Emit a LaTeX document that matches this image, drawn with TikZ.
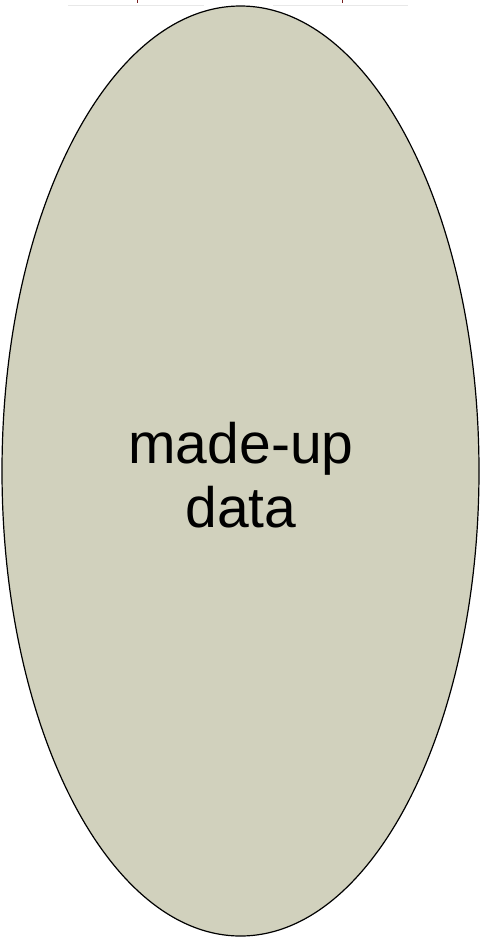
\documentclass[tikz,border=0pt]{standalone}
\usepackage{fontspec}
\setmainfont{Liberation Sans}
\usetikzlibrary{shapes.geometric}
\definecolor{blobfill}{RGB}{209,209,189}
\definecolor{ghostline}{RGB}{232,232,232}
\definecolor{ghosttick}{RGB}{120,30,30}
\begin{document}
\begin{tikzpicture}[x=1pt,y=-1pt,
  blob/.style={ellipse, draw=black, line width=1.2pt, fill=blobfill, minimum width=477pt, minimum height=930pt, inner sep=0pt},
  blobtext/.style={font=\fontsize{57}{64}\selectfont, align=center, text=black}]
\useasboundingbox (0,0) rectangle (481,938);
\draw[ghostline, line width=0.6pt] (68,5) -- (204,5);
\draw[ghostline, line width=0.6pt] (273,5) -- (408,5);
\draw[ghosttick, line width=0.8pt] (137,0) -- (137,3);
\draw[ghosttick, line width=0.8pt] (342,0) -- (342,3);
\node[blob] (blob) at (240.5,471) {};
\node[blobtext] (label) at (241,475) {made-up\\data};
\end{tikzpicture}
\end{document}
